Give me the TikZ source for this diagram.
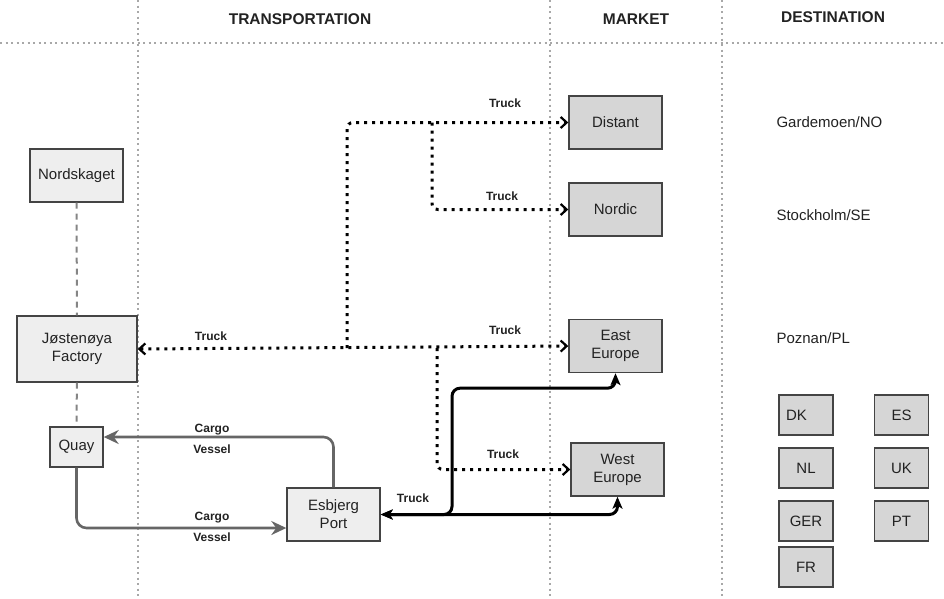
\documentclass[tikz,border=0pt]{standalone}
\usepackage{fontspec}
\setmainfont{Liberation Sans}
\usetikzlibrary{arrows.meta,calc}
\definecolor{boxline}{HTML}{444444}
\definecolor{lightfill}{HTML}{EEEEEE}
\definecolor{mktfill}{HTML}{D6D6D6}
\definecolor{gridc}{HTML}{A8A8A8}
\definecolor{vessel}{HTML}{666666}
\definecolor{txt}{HTML}{222222}
\tikzset{
  basebox/.style={draw=boxline, line width=1.4pt, inner sep=0pt, align=center, text=txt,
    font=\fontsize{15}{18}\selectfont},
  lightbox/.style={basebox, fill=lightfill},
  mktbox/.style={basebox, fill=mktfill, minimum width=93pt, minimum height=53pt},
  ctrybox/.style={basebox, fill=mktfill, minimum width=54pt, minimum height=40pt},
  gridline/.style={gridc, line width=2pt, dash pattern=on 2pt off 3.5pt},
  header/.style={font=\bfseries\fontsize{15.5}{17}\selectfont, text=txt},
  dest/.style={font=\fontsize{15}{18}\selectfont, text=txt, anchor=west},
  lbl/.style={font=\bfseries\fontsize{12}{14}\selectfont, text=txt},
  truckdot/.style={black, line width=3pt, dash pattern=on 3pt off 5pt, rounded corners=6pt},
  barb/.style={-{Straight Barb[length=6pt,width=11pt,line width=2.2pt]}},
  dbarb/.style={{Straight Barb[length=6pt,width=11pt,line width=2.2pt]}-{Straight Barb[length=6pt,width=11pt,line width=2.2pt]}},
  vesselline/.style={vessel, line width=2.6pt, rounded corners=10pt, -{Stealth[length=15pt,width=14pt,inset=5pt]}},
  blkline/.style={black, line width=3pt, rounded corners=8pt, {Stealth[length=12pt,width=10pt,inset=3pt]}-{Stealth[length=12pt,width=10pt,inset=3pt]}},
  linkdash/.style={vessel!80, line width=2pt, dash pattern=on 6pt off 5pt}
}
\begin{document}
\begin{tikzpicture}[x=1pt,y=-1pt]
\useasboundingbox (0,0) rectangle (944,598);
% grid
\draw[gridline] (0,43) -- (944,43);
\draw[gridline] (138,0) -- (138,598);
\draw[gridline] (550,0) -- (550,598);
\draw[gridline] (722,0) -- (722,598);
% headers
\node[header] (hT) at (300,19) {TRANSPORTATION};
\node[header] (hM) at (636,19) {MARKET};
\node[header] (hD) at (833,17) {DESTINATION};
% left nodes
\node[lightbox, minimum width=93pt, minimum height=53pt] (nord) at (76.5,175.5) {Nordskaget};
\node[lightbox, minimum width=120pt, minimum height=66pt] (jost) at (77,349) {Jøstenøya\\Factory};
\node[lightbox, minimum width=53pt, minimum height=40pt] (quay) at (76.5,447) {Quay};
\node[lightbox, minimum width=93pt, minimum height=53pt] (esb) at (333.5,514.5) {Esbjerg\\Port};
% market nodes
\node[mktbox] (dist) at (615.5,122.5) {Distant};
\node[mktbox] (nordic) at (615.5,209.5) {Nordic};
\node[mktbox] (east) at (615.5,346) {East\\Europe};
\node[mktbox] (west) at (617.5,469.5) {West\\Europe};
% destinations
\node[dest] (dG) at (773,122) {Gardemoen/NO};
\node[dest] (dS) at (773,215) {Stockholm/SE};
\node[dest] (dP) at (773,338) {Poznan/PL};
\node[ctrybox, text width=40pt, align=left] (dk) at (806,415) {DK};
\node[ctrybox] (es) at (901.5,415) {ES};
\node[ctrybox] (nl) at (806,468) {NL};
\node[ctrybox] (uk) at (901.5,468) {UK};
\node[ctrybox] (ger) at (806,521) {GER};
\node[ctrybox] (pt) at (901.5,521) {PT};
\node[ctrybox] (fr) at (806,567) {FR};
% dashed links
\draw[linkdash] (nord) -- (jost);
\draw[linkdash] (jost) -- (quay);
% dotted truck routes
\coordinate (jA) at (347,348);
\coordinate (jB) at (432,122.5);
\coordinate (jC) at (437,348);
\draw[truckdot, dbarb] (jost.east) -- (east.west);
\draw[truckdot, barb] (jA) |- (dist.west);
\draw[truckdot, barb] (jB) |- (nordic.west);
\draw[truckdot, barb] (jC) |- (west.west);
% vessel routes
\path (quay.east) ++(0,-10) coordinate (qE);
\path (esb.west) ++(0,13.5) coordinate (eW);
\draw[vesselline] (esb.north) |- (qE);
\draw[vesselline] (quay.south) |- (eW);
% black truck routes
\coordinate (jD) at (452,514.5);
\path (east.south) ++(0,15) coordinate (eE);
\draw[blkline] (esb.east) -- (jD) |- (eE) -- (east.south);
\draw[blkline] (esb.east) -| (west.south);
% labels
\node[lbl] (t1) at (211,336) {Truck};
\node[lbl] (t2) at (505,103) {Truck};
\node[lbl] (t3) at (502,196) {Truck};
\node[lbl] (t4) at (505,330) {Truck};
\node[lbl] (t5) at (503,454) {Truck};
\node[lbl] (t6) at (413,498) {Truck};
\node[lbl] (c1) at (212,430) {Cargo};
\node[lbl] (v1) at (212,449) {Vessel};
\node[lbl] (c2) at (212,518) {Cargo};
\node[lbl] (v2) at (212,537) {Vessel};
\end{tikzpicture}
\end{document}
